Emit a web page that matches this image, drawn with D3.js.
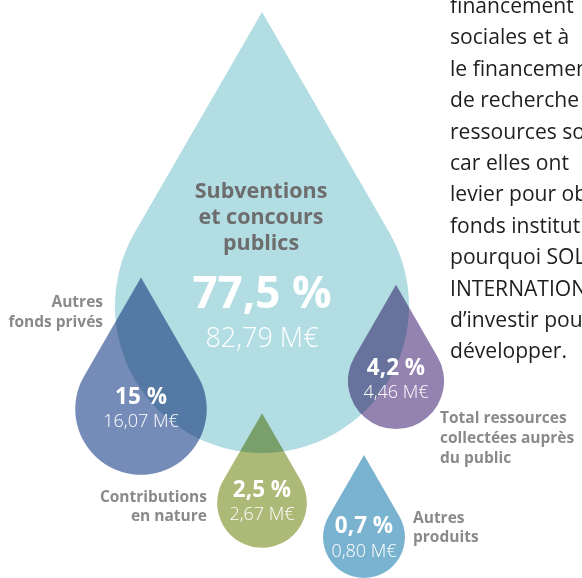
<!DOCTYPE html>
<html lang="fr">
<head>
<meta charset="UTF-8">
<title>Ressources</title>
<script src="https://d3js.org/d3.v7.min.js"></script>
<style>
  body { margin: 0; background: #fff; }
  svg { display: block; overflow: hidden; }
  .drop { mix-blend-mode: multiply; }
  .pct { font-family: "Open Sans", sans-serif; font-weight: 700; fill: #fff; text-anchor: middle; }
  .amt { font-family: "Open Sans", sans-serif; font-weight: 300; fill: #fff; text-anchor: middle; }
  .lbl { font-family: "Open Sans", sans-serif; font-weight: 700; }
  .para { font-family: "Open Sans", sans-serif; font-weight: 400; fill: #1e1e1e; font-size: 21.5px; }
</style>
</head>
<body>
<svg width="582" height="578"></svg>
<script>
// données
const categories = ["Subventions et concours publics", "Autres fonds privés",
  "Total ressources collectées auprès du public", "Contributions en nature", "Autres produits"];
const labelLines = [
  ["Subventions", "et concours", "publics"],
  ["Autres", "fonds privés"],
  ["Total ressources", "collectées auprès", "du public"],
  ["Contributions", "en nature"],
  ["Autres", "produits"]
];
const percents = [77.5, 15, 4.2, 2.5, 0.7];
const amounts = [82.79, 16.07, 4.46, 2.67, 0.80];
const paragraph = ["financement", "sociales et à", "le financement", "de recherche",
  "ressources sont", "car elles ont", "levier pour obtenir", "fonds institutionnels",
  "pourquoi SOLIDARITÉS", "INTERNATIONAL a choisi", "d’investir pour les", "développer."];

// mise en page
const centers = [[262, 306], [141, 409], [396, 381], [262, 503], [364, 537]];
const colors = ["#b2dde3", "#768cb8", "#9483b0", "#adb977", "#7ab3d0"];
const labelPos = [
  { x: 261, y: 198, anchor: "middle", size: 21.5, lh: 26, color: "#6d6d6d" },
  { x: 103, y: 307, anchor: "end", size: 15.5, lh: 20, color: "#8a8a8a" },
  { x: 440, y: 423, anchor: "start", size: 15.5, lh: 20, color: "#8a8a8a" },
  { x: 207, y: 502, anchor: "end", size: 15.5, lh: 19, color: "#8a8a8a" },
  { x: 413, y: 523, anchor: "start", size: 15.5, lh: 19, color: "#8a8a8a" }
];
const textStyle = [
  { pctSize: 44, amtSize: 27, pctDy: 2, amtDy: 41 },
  { pctSize: 22.5, amtSize: 18, pctDy: -5, amtDy: 18 },
  { pctSize: 22.5, amtSize: 18, pctDy: -6, amtDy: 17 },
  { pctSize: 22.5, amtSize: 18, pctDy: -6, amtDy: 17 },
  { pctSize: 22.5, amtSize: 18, pctDy: -4, amtDy: 20 }
];

const fr = d3.formatLocale({ decimal: ",", thousands: " ", grouping: [3], currency: ["", " €"] });
const fmtPct = fr.format("~f");
const fmtAmt = fr.format(".2f");

const data = categories.map((c, i) => ({
  name: c, pct: percents[i], amt: amounts[i], lines: labelLines[i],
  cx: centers[i][0], cy: centers[i][1], color: colors[i], lab: labelPos[i], ts: textStyle[i]
}));

// taille des gouttes
const rScale = d3.scalePow().exponent(0.85)
  .domain([0, d3.max(percents)])
  .range([39, 147]);

function dropPath(d) {
  const r = rScale(d.pct);
  const p = d3.path();
  const a = Math.PI / 6;
  p.moveTo(d.cx, d.cy - 2 * r);
  p.lineTo(d.cx - r * Math.cos(a), d.cy - r * Math.sin(a));
  p.arc(d.cx, d.cy, r, Math.PI + a, -a, true);
  p.closePath();
  return p.toString();
}

const svg = d3.select("svg");

svg.append("g").selectAll("path")
  .data(data)
  .join("path")
  .attr("class", (d, i) => i ? "drop" : null)
  .attr("d", dropPath)
  .attr("fill", d => d.color);

// pourcentages et montants
const vals = svg.append("g").selectAll("g").data(data).join("g");
vals.append("text")
  .attr("class", "pct")
  .attr("x", d => d.cx)
  .attr("y", d => d.cy + d.ts.pctDy)
  .style("font-size", d => d.ts.pctSize + "px")
  .text(d => fmtPct(d.pct) + " %");
vals.append("text")
  .attr("class", "amt")
  .attr("x", d => d.cx)
  .attr("y", d => d.cy + d.ts.amtDy)
  .style("font-size", d => d.ts.amtSize + "px")
  .text(d => fmtAmt(d.amt) + " M€");

// libellés
const labs = svg.append("g").selectAll("text").data(data).join("text")
  .attr("class", "lbl")
  .attr("text-anchor", d => d.lab.anchor)
  .style("font-size", d => d.lab.size + "px")
  .attr("fill", d => d.lab.color);
labs.selectAll("tspan")
  .data(d => d.lines.map((l, j) => ({ l, j, lab: d.lab })))
  .join("tspan")
  .attr("x", t => t.lab.x)
  .attr("y", t => t.lab.y + t.j * t.lab.lh)
  .text(t => t.l);

// texte à droite (coupé par le bord)
const para = svg.append("g");
const lines = para.selectAll("text").data(paragraph).join("text")
  .attr("class", "para")
  .attr("x", 0)
  .attr("y", (d, i) => 13 + i * 31.4)
  .text(d => d);
const w = lines.filter((d, i) => i === paragraph.length - 1).node().getComputedTextLength();
para.attr("transform", `translate(450,0) scale(${117 / w},1)`);
</script>
</body>
</html>
